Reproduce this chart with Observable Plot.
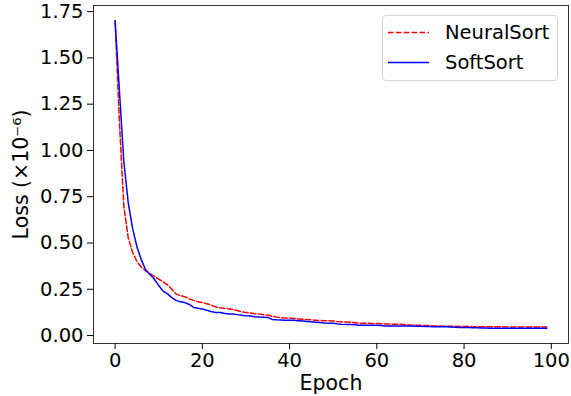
<!DOCTYPE html>
<html>
<head>
<meta charset="utf-8">
<script src="https://cdn.jsdelivr.net/npm/d3@7"></script>
<script src="https://cdn.jsdelivr.net/npm/@observablehq/plot@0.6"></script>
<style>
  html, body { margin: 0; padding: 0; background: white; }
  #wrap { position: relative; width: 571px; height: 396px; font-family: "DejaVu Sans", sans-serif; }
  #legend { position: absolute; left: 382px; top: 15px; width: 176px; height: 66px;
    border: 1px solid #d5d5d5; border-radius: 4px; background: rgba(255,255,255,0.8); box-sizing: border-box; }
</style>
</head>
<body>
<div id="wrap"></div>
<script>
const epochs = d3.range(100);
const neuralSort = [
  1.70, 1.15, 0.70, 0.53, 0.45, 0.40, 0.37, 0.35, 0.335, 0.32,
  0.305, 0.29, 0.275, 0.25, 0.225, 0.215, 0.21, 0.198, 0.19, 0.182,
  0.178, 0.172, 0.165, 0.155, 0.15, 0.147, 0.145, 0.14, 0.135, 0.128,
  0.125, 0.122, 0.118, 0.116, 0.112, 0.11, 0.105, 0.10, 0.097, 0.095,
  0.093, 0.092, 0.09, 0.088, 0.086, 0.085, 0.083, 0.081, 0.08, 0.08,
  0.078, 0.076, 0.075, 0.073, 0.071, 0.069, 0.067, 0.066, 0.066, 0.065,
  0.065, 0.064, 0.063, 0.062, 0.061, 0.061, 0.06, 0.058, 0.056, 0.055,
  0.055, 0.054, 0.053, 0.052, 0.052, 0.051, 0.05, 0.05, 0.05, 0.049,
  0.049, 0.049, 0.048, 0.048, 0.048, 0.047, 0.047, 0.047, 0.047, 0.047,
  0.046, 0.046, 0.046, 0.046, 0.046, 0.046, 0.046, 0.046, 0.046, 0.046
];
const softSort = [
  1.70, 1.32, 0.94, 0.72, 0.58, 0.48, 0.41, 0.355, 0.33, 0.305,
  0.27, 0.24, 0.225, 0.205, 0.19, 0.182, 0.178, 0.168, 0.152, 0.147,
  0.143, 0.137, 0.13, 0.125, 0.125, 0.12, 0.116, 0.116, 0.113, 0.11,
  0.107, 0.105, 0.102, 0.10, 0.099, 0.098, 0.087, 0.085, 0.084, 0.083,
  0.083, 0.082, 0.08, 0.078, 0.076, 0.074, 0.072, 0.07, 0.068, 0.067,
  0.066, 0.063, 0.061, 0.06, 0.059, 0.058, 0.056, 0.056, 0.056, 0.056,
  0.056, 0.054, 0.052, 0.052, 0.052, 0.052, 0.052, 0.052, 0.051, 0.05,
  0.05, 0.049, 0.049, 0.048, 0.048, 0.047, 0.047, 0.046, 0.045, 0.044,
  0.043, 0.043, 0.042, 0.042, 0.041, 0.041, 0.04, 0.04, 0.04, 0.04,
  0.04, 0.04, 0.04, 0.039, 0.039, 0.04, 0.04, 0.04, 0.04, 0.04
];
const xTicks = [0, 20, 40, 60, 80, 100];
const yTicks = [0, 0.25, 0.5, 0.75, 1.0, 1.25, 1.5, 1.75];
const seriesNames = ["NeuralSort", "SoftSort"];
const seriesColors = ["#ff0000", "#0000ff"];

const neuralData = epochs.map((e, i) => ({epoch: e, loss: neuralSort[i]}));
const softData = epochs.map((e, i) => ({epoch: e, loss: softSort[i]}));

const fs = 19.5;
const lfs = 20.5;
const chart = Plot.plot({
  width: 571,
  height: 396,
  marginLeft: 93,
  marginRight: 3,
  marginTop: 5,
  marginBottom: 53,
  x: {domain: [-4.95, 103.95]},
  y: {domain: [-0.043, 1.783]},
  style: {fontFamily: "DejaVu Sans", fontSize: fs + "px", color: "black", background: "white", overflow: "visible"},
  marks: [
    Plot.line(neuralData, {x: "epoch", y: "loss", stroke: seriesColors[0], strokeWidth: 1.5, strokeDasharray: "5.5,2.4"}),
    Plot.line(softData, {x: "epoch", y: "loss", stroke: seriesColors[1], strokeWidth: 1.5}),
    Plot.frame({stroke: "black", strokeWidth: 0.8}),
    Plot.axisX({ticks: xTicks, tickSize: 6, tickPadding: 4, fontSize: fs, label: null}),
    Plot.axisX({ticks: [], tickSize: 0, fontSize: lfs, label: "Epoch", labelAnchor: "center", labelArrow: "none", labelOffset: 46}),
    Plot.axisY({ticks: yTicks, tickFormat: d3.format(".2f"), tickSize: 6, tickPadding: 4, fontSize: fs, label: null}),
    Plot.axisY({ticks: [], tickSize: 0, fontSize: lfs, label: "Loss (×10⁻⁶)", labelAnchor: "center", labelArrow: "none", labelOffset: 80})
  ]
});
const wrap = document.getElementById("wrap");
wrap.appendChild(chart);

// legend overlay
const leg = document.createElement("div");
leg.id = "legend";
const ns = "http://www.w3.org/2000/svg";
const lsvg = document.createElementNS(ns, "svg");
lsvg.setAttribute("width", 176);
lsvg.setAttribute("height", 66);
seriesNames.forEach((name, i) => {
  const cy = 16.5 + i * 30;
  const ln = document.createElementNS(ns, "line");
  ln.setAttribute("x1", 5); ln.setAttribute("x2", 46);
  ln.setAttribute("y1", cy); ln.setAttribute("y2", cy);
  ln.setAttribute("stroke", seriesColors[i]);
  ln.setAttribute("stroke-width", 1.5);
  if (i === 0) ln.setAttribute("stroke-dasharray", "5.5,2.4");
  lsvg.appendChild(ln);
  const tx = document.createElementNS(ns, "text");
  tx.setAttribute("x", 62);
  tx.setAttribute("y", cy);
  tx.setAttribute("dy", "0.35em");
  tx.setAttribute("font-family", "DejaVu Sans");
  tx.setAttribute("font-size", 19.5);
  tx.setAttribute("fill", "black");
  tx.textContent = name;
  lsvg.appendChild(tx);
});
leg.appendChild(lsvg);
wrap.appendChild(leg);
</script>
</body>
</html>
